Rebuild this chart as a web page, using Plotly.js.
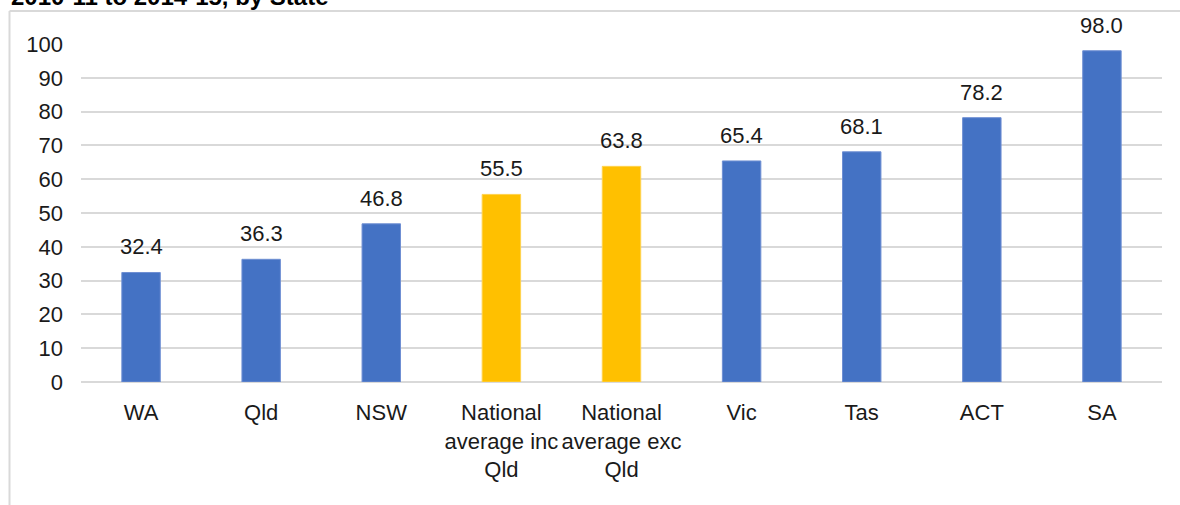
<!DOCTYPE html>
<html>
<head>
<meta charset="utf-8">
<script src="https://cdn.plot.ly/plotly-3.0.1.min.js"></script>
<style>
  html, body { margin: 0; padding: 0; background: #ffffff; }
  #chart { width: 1180px; height: 505px; }
</style>
</head>
<body>
<div id="chart"></div>
<script>
// ---- data ----
const categories = ["WA", "Qld", "NSW", "National<br>average inc<br>Qld", "National<br>average exc<br>Qld", "Vic", "Tas", "ACT", "SA"];
const values = [32.4, 36.3, 46.8, 55.5, 63.8, 65.4, 68.1, 78.2, 98.0];
const isAverage = [false, false, false, true, true, false, false, false, false];
const yTicks = [0, 10, 20, 30, 40, 50, 60, 70, 80, 90, 100];
const titleText = "2010-11 to 2014-15, by State";

// ---- styles ----
const BLUE = "#4472C4";
const GOLD = "#FFC000";
const FONT = "Liberation Sans, Arial, sans-serif";
const W = 1180, H = 505;
const M = { l: 81, r: 18, t: 44, b: 123 };
const pw = W - M.l - M.r, ph = H - M.t - M.b;
const px2x = p => (p - M.l) / pw;
const py2y = p => 1 - (p - M.t) / ph;

const barTrace = {
  type: "bar",
  x: categories,
  y: values,
  marker: {
    color: isAverage.map(a => a ? GOLD : BLUE),
    line: { color: isAverage.map(a => a ? "#FFD24D" : "#6F8FD3"), width: 1 }
  },
  hoverinfo: "x+y",
  showlegend: false
};

const valueLabels = categories.map((c, i) => ({
  x: c, y: values[i], xref: "x", yref: "y",
  text: values[i].toFixed(1),
  showarrow: false, yanchor: "bottom", yshift: 11,
  font: { family: FONT, size: 22, color: "#1a1a1a" }
}));

const titleAnn = {
  xref: "paper", yref: "paper",
  x: px2x(9), y: py2y(12), xanchor: "left", yanchor: "bottom",
  text: "<b>" + titleText + "</b>", showarrow: false,
  font: { family: FONT, size: 24, color: "#000000" }
};

const layout = {
  width: W, height: H,
  margin: M,
  paper_bgcolor: "#ffffff",
  plot_bgcolor: "#ffffff",
  bargap: 0.68,
  font: { family: FONT, size: 22, color: "#1a1a1a" },
  xaxis: {
    type: "category",
    tickvals: categories,
    ticktext: categories,
    showgrid: false,
    showline: false,
    zeroline: false,
    ticks: "",
    ticklabelstandoff: 15,
    tickfont: { family: FONT, size: 22, color: "#1a1a1a" },
    fixedrange: true
  },
  yaxis: {
    range: [0, 100],
    tickvals: yTicks,
    ticktext: yTicks.map(String),
    showgrid: true,
    gridcolor: "#d9d9d9",
    gridwidth: 1.5,
    zeroline: true,
    zerolinecolor: "#d9d9d9",
    zerolinewidth: 1.5,
    showline: false,
    ticks: "",
    ticklabelstandoff: 17,
    tickfont: { family: FONT, size: 22, color: "#1a1a1a" },
    fixedrange: true
  },
  shapes: [
    { type: "line", xref: "paper", yref: "paper", x0: px2x(9.5), x1: px2x(9.5), y0: py2y(11), y1: py2y(510), line: { color: "#d9d9d9", width: 2 } },
    { type: "line", xref: "paper", yref: "paper", x0: px2x(9.5), x1: px2x(1185), y0: py2y(11), y1: py2y(11), line: { color: "#d9d9d9", width: 2 } }
  ],
  annotations: [titleAnn].concat(valueLabels)
};

Plotly.newPlot("chart", [barTrace], layout, { displayModeBar: false, staticPlot: false });
</script>
</body>
</html>
